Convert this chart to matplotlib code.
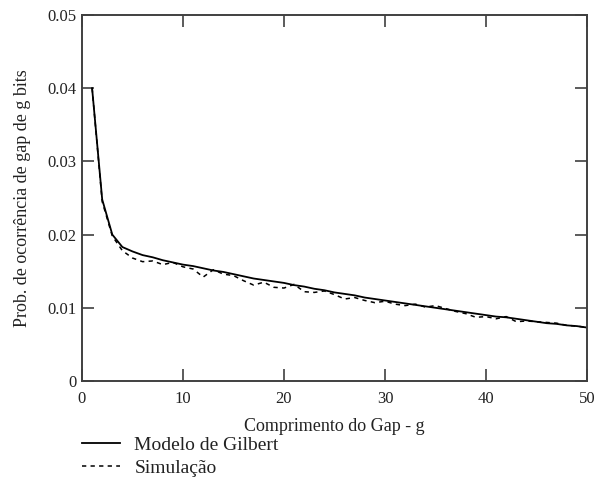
import matplotlib
matplotlib.use("Agg")
import matplotlib.pyplot as plt
from matplotlib.ticker import FixedLocator, FixedFormatter

plt.rcParams['font.family'] = ['Liberation Serif', 'DejaVu Serif']

gap = list(range(1, 51))

gilbert = [0.0400, 0.0248, 0.0200, 0.0183, 0.0177, 0.0172, 0.0169, 0.0165, 0.0162, 0.0159,
           0.0157, 0.0154, 0.0151, 0.0149, 0.0146, 0.0143, 0.0140, 0.0138, 0.0136, 0.0134,
           0.0131, 0.0129, 0.0126, 0.0124, 0.0121, 0.0119, 0.0117, 0.0114, 0.0112, 0.0110,
           0.0108, 0.0106, 0.0104, 0.0102, 0.0100, 0.0098, 0.0096, 0.0094, 0.0092, 0.0090,
           0.0088, 0.0087, 0.0085, 0.0083, 0.0081, 0.0079, 0.0078, 0.0076, 0.0075, 0.0073]

simulacao = [0.0400, 0.0245, 0.0198, 0.0178, 0.0168, 0.0163, 0.0164, 0.0159, 0.0162, 0.0156,
             0.0153, 0.0142, 0.0152, 0.0146, 0.0144, 0.0137, 0.0131, 0.0135, 0.0128, 0.0127,
             0.0132, 0.0122, 0.0121, 0.0123, 0.0118, 0.0112, 0.0114, 0.0110, 0.0107, 0.0109,
             0.0105, 0.0103, 0.0105, 0.0101, 0.0103, 0.0099, 0.0095, 0.0092, 0.0087, 0.0088,
             0.0085, 0.0088, 0.0081, 0.0082, 0.0081, 0.0080, 0.0079, 0.0076, 0.0075, 0.0073]

x_ticks = [0, 10, 20, 30, 40, 50]
y_ticks = [0, 0.01, 0.02, 0.03, 0.04, 0.05]
y_tick_labels = ["0", "0.01", "0.02", "0.03", "0.04", "0.05"]

W, H = 599, 480
fig = plt.figure(figsize=(W / 100, H / 100), dpi=100)
left, right, top, bottom = 82, 587, 15, 381
ax = fig.add_axes([left / W, 1 - bottom / H, (right - left) / W, (bottom - top) / H])

axis_color = "#404040"
text_color = "#222222"
ax.plot(gap, gilbert, color="black", lw=1.3, label="Modelo de Gilbert")
ax.plot(gap, simulacao, color="black", lw=1.1, dashes=(2.8, 2.8), label="Simulação")

ax.set_xlim(0, 50)
ax.set_ylim(0, 0.05)
ax.xaxis.set_major_locator(FixedLocator(x_ticks))
ax.yaxis.set_major_locator(FixedLocator(y_ticks))
ax.yaxis.set_major_formatter(FixedFormatter(y_tick_labels))

for s in ax.spines.values():
    s.set_color(axis_color)
    s.set_linewidth(1.4)

ax.tick_params(direction="in", length=8.5, width=1.2, color=axis_color,
               top=True, right=True, labelsize=12, labelcolor=text_color, pad=4)
ax.tick_params(axis="x", pad=7)

ax.set_xlabel("Comprimento do Gap - g", fontsize=13, color=text_color, labelpad=8)
ax.set_ylabel("Prob. de ocorrência de gap de g bits", fontsize=13, color=text_color, labelpad=12)

fig.legend(loc="upper left", bbox_to_anchor=(82 / W, 1 - 436 / H), frameon=False,
           fontsize=14, handlelength=1.95, handletextpad=0.75, labelspacing=0.3,
           borderaxespad=0, borderpad=0, labelcolor=text_color)

fig.savefig("out.png", dpi=100)
